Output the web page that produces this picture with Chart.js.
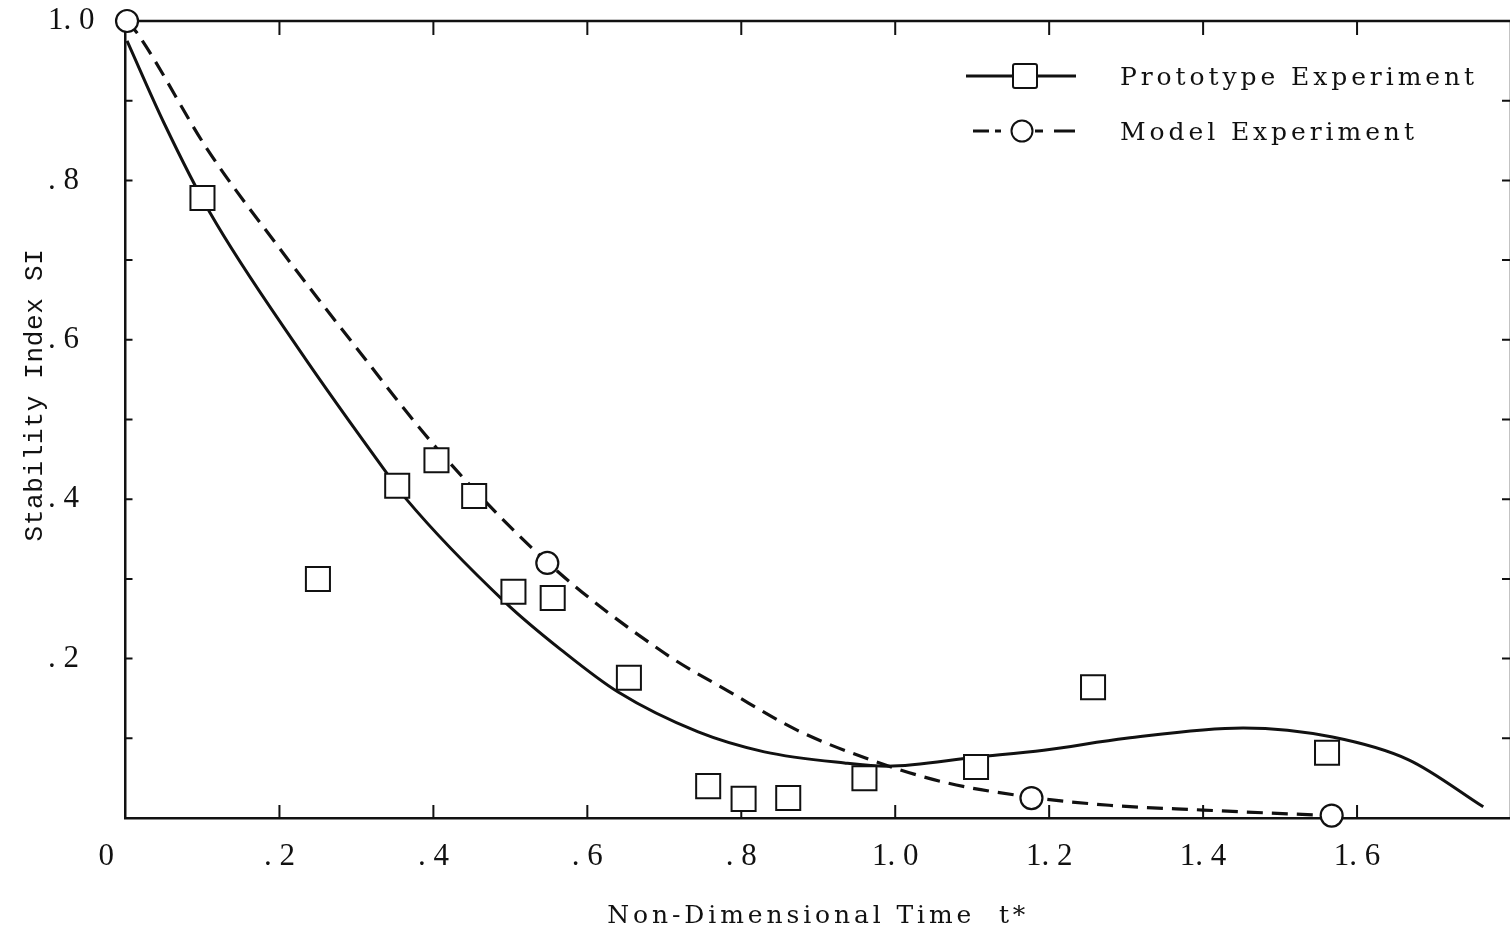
<!DOCTYPE html>
<html><head><meta charset="utf-8">
<script src="https://cdn.jsdelivr.net/npm/chart.js@4.4.1/dist/chart.umd.min.js"></script>
<style>
html,body{margin:0;padding:0;background:#fff;overflow:hidden;width:1510px;height:933px;}
#wrap{position:relative;width:1530px;height:933px;}
canvas{display:block;}
#legend{position:absolute;left:0;top:0;}
.legtext{position:absolute;font-family:"DejaVu Serif";font-size:25px;color:#111;white-space:nowrap;line-height:30px;}
</style></head>
<body><div id="wrap"><canvas id="c" width="1530" height="933"></canvas><div id="legend"></div></div>
<script>
// ---------- data ----------
const seriesNames = ['Prototype Experiment', 'Model Experiment'];
const protoX = [0.100, 0.250, 0.353, 0.404, 0.453, 0.504, 0.555, 0.654, 0.757, 0.803, 0.861, 0.960, 1.105, 1.257, 1.561];
const protoY = [0.778, 0.300, 0.417, 0.449, 0.404, 0.284, 0.276, 0.176, 0.040, 0.024, 0.025, 0.050, 0.064, 0.164, 0.082];
const modelX = [0.002, 0.548, 1.177, 1.567];
const modelY = [1.000, 0.320, 0.025, 0.003];
// faired curves
const protoFitX = [0.002, 0.050, 0.110, 0.226, 0.3385, 0.364, 0.494, 0.566, 0.640, 0.744, 0.830, 0.934, 0.990, 1.106, 1.193, 1.300, 1.452, 1.568, 1.667, 1.764];
const protoFitY = [0.975, 0.872, 0.759, 0.587, 0.434, 0.401, 0.270, 0.211, 0.158, 0.108, 0.083, 0.069, 0.065, 0.0765, 0.085, 0.100, 0.113, 0.1016, 0.073, 0.014];
const modelFitX = [0.002, 0.015, 0.107, 0.196, 0.300, 0.403, 0.549, 0.700, 0.787, 0.873, 0.968, 1.063, 1.177, 1.278, 1.400, 1.516, 1.567];
const modelFitY = [1.000, 0.985, 0.838, 0.720, 0.590, 0.4655, 0.320, 0.207, 0.157, 0.110, 0.073, 0.045, 0.026, 0.016, 0.010, 0.005, 0.003];
const xTickLabels = ['0     ', '. 2', '. 4', '. 6', '. 8', '1. 0', '1. 2', '1. 4', '1. 6', ''];
const yTickLabels = ['', '', '. 2', '', '. 4', '', '. 6', '', '. 8', '', '1. 0'];
const xTitle = 'Non-Dimensional Time  t*';
const yTitle = 'Stability Index SI';

// ---------- style ----------
const INK = '#111';
const pts = (xs, ys) => xs.map((x, i) => ({x, y: ys[i]}));
const measure = (text, font) => { const c = document.createElement('canvas').getContext('2d'); c.font = font; return c.measureText(text).width; };
const fitSpacing = (text, font, target) => (target - measure(text, font)) / text.length;

const tickFont = {family: 'Liberation Serif', size: 31};
const xTitleFont = {family: 'DejaVu Serif', size: 25};
const yTitleFont = {family: 'Liberation Mono', size: 26};
const xTitleSpacing = fitSpacing(xTitle, '25px "DejaVu Serif"', 422);
const yTitleSpacing = fitSpacing(yTitle, '26px "Liberation Mono"', 293);

const spacingPlugin = {
  id: 'spacing',
  afterLayout(chart) {
    [['x', xTitleSpacing], ['yTitle', yTitleSpacing]].forEach(([id, sp]) => {
      const s = chart.scales[id];
      if (!s || s._spPatched) return;
      const orig = s.drawTitle.bind(s);
      s.drawTitle = function () {
        const c = this.ctx; const prev = c.letterSpacing;
        c.letterSpacing = sp.toFixed(2) + 'px'; orig(); c.letterSpacing = prev;
      };
      s._spPatched = true;
    });
  }
};

const framePlugin = {
  id: 'frame',
  beforeDatasetsDraw(chart) {
    const {ctx, chartArea: {left, right, top, bottom}, scales: {x, y}} = chart;
    ctx.save();
    ctx.strokeStyle = INK;
    ctx.lineWidth = 2.5;
    ctx.beginPath();
    ctx.moveTo(left - 1, top); ctx.lineTo(right, top); ctx.lineTo(right, bottom);
    ctx.stroke();
    ctx.lineWidth = 2;
    ctx.beginPath();
    x.ticks.forEach(t => {
      const px = x.getPixelForValue(t.value);
      if (px <= left + 2 || px >= right - 2) return;
      ctx.moveTo(px, bottom); ctx.lineTo(px, bottom - 13);
      ctx.moveTo(px, top); ctx.lineTo(px, top + 14);
    });
    y.ticks.forEach(t => {
      const py = y.getPixelForValue(t.value);
      if (py <= top + 2 || py >= bottom - 2) return;
      ctx.moveTo(left, py); ctx.lineTo(left + 7, py);
      ctx.moveTo(right, py); ctx.lineTo(right - 9, py);
    });
    ctx.stroke();
    ctx.restore();
  }
};

const noPad = s => { s.paddingTop = 0; s.paddingBottom = 0; s.paddingLeft = 0; s.paddingRight = 0; };

new Chart(document.getElementById('c'), {
  type: 'scatter',
  data: {
    datasets: [
      {label: seriesNames[0], data: pts(protoX, protoY), showLine: false, pointStyle: 'rect', pointRadius: 17,
       pointBorderWidth: 2, pointBackgroundColor: '#fff', pointBorderColor: INK, order: 0, clip: false},
      {label: seriesNames[1], data: pts(modelX, modelY), showLine: false, pointStyle: 'circle', pointRadius: 11,
       pointBorderWidth: 2.2, pointBackgroundColor: '#fff', pointBorderColor: INK, order: 0, clip: false},
      {label: seriesNames[0] + ' curve', data: pts(protoFitX, protoFitY), showLine: true, pointRadius: 0,
       borderColor: INK, borderWidth: 3, cubicInterpolationMode: 'monotone', order: 1, clip: false},
      {label: seriesNames[1] + ' curve', data: pts(modelFitX, modelFitY), showLine: true, pointRadius: 0,
       borderColor: INK, borderWidth: 3.2, borderDash: [16, 9], cubicInterpolationMode: 'monotone', order: 1, clip: false}
    ]
  },
  options: {
    responsive: false, animation: false, devicePixelRatio: 1,
    layout: {padding: {left: 0, right: 14, top: 21, bottom: 0}},
    plugins: {legend: {display: false}, tooltip: {enabled: false}},
    scales: {
      x: {
        type: 'linear', min: 0, max: 1.8,
        ticks: {stepSize: 0.2, autoSkip: false, maxRotation: 0, padding: 20, color: INK,
                font: tickFont, callback: (v, i) => xTickLabels[i] ?? ''},
        grid: {display: false, drawTicks: false},
        border: {display: true, color: INK, width: 2.5},
        title: {display: true, text: xTitle, color: INK, font: xTitleFont, padding: {top: 0, bottom: 2}},
        afterFit(s) { s.height = 115; noPad(s); }
      },
      y: {
        type: 'linear', min: 0, max: 1.0, weight: 0,
        ticks: {stepSize: 0.1, autoSkip: false, padding: 20, color: INK, crossAlign: 'far',
                font: tickFont, callback: (v, i) => yTickLabels[i] ?? ''},
        grid: {display: false, drawTicks: false},
        border: {display: true, color: INK, width: 2.5},
        afterFit(s) { s.width = 77.5; noPad(s); }
      },
      yTitle: {
        type: 'linear', position: 'left', min: 0, max: 1.0, weight: 1,
        ticks: {display: false}, grid: {display: false, drawTicks: false}, border: {display: false},
        title: {display: true, text: '   ' + yTitle, color: INK, font: yTitleFont, padding: {top: 20, bottom: 0}},
        afterFit(s) { s.width = 48; noPad(s); }
      }
    }
  },
  plugins: [spacingPlugin, framePlugin]
});

// ---------- legend (HTML) ----------
const legFont = '25px "DejaVu Serif"';
const legSpacing = fitSpacing(seriesNames[0], legFont, 358);
const leg = document.getElementById('legend');
leg.innerHTML =
  '<svg width="140" height="100" style="position:absolute;left:955px;top:55px" xmlns="http://www.w3.org/2000/svg">' +
  '<g stroke="' + INK + '" fill="#fff">' +
  '<line x1="11" y1="21" x2="121" y2="21" stroke-width="3"/>' +
  '<rect x="58" y="9" width="24" height="24" rx="2" stroke-width="2"/>' +
  '<line x1="18" y1="76" x2="34" y2="76" stroke-width="3"/>' +
  '<line x1="40" y1="76" x2="46" y2="76" stroke-width="3"/>' +
  '<circle cx="67" cy="76" r="10.5" stroke-width="2"/>' +
  '<line x1="80" y1="76" x2="88" y2="76" stroke-width="3"/>' +
  '<line x1="99" y1="76" x2="120" y2="76" stroke-width="3"/>' +
  '</g></svg>' +
  '<div class="legtext" style="left:1120px;top:62px;letter-spacing:' + legSpacing.toFixed(2) + 'px">' + seriesNames[0] + '</div>' +
  '<div class="legtext" style="left:1120px;top:117px;letter-spacing:' + legSpacing.toFixed(2) + 'px">' + seriesNames[1] + '</div>';
</script></body></html>
